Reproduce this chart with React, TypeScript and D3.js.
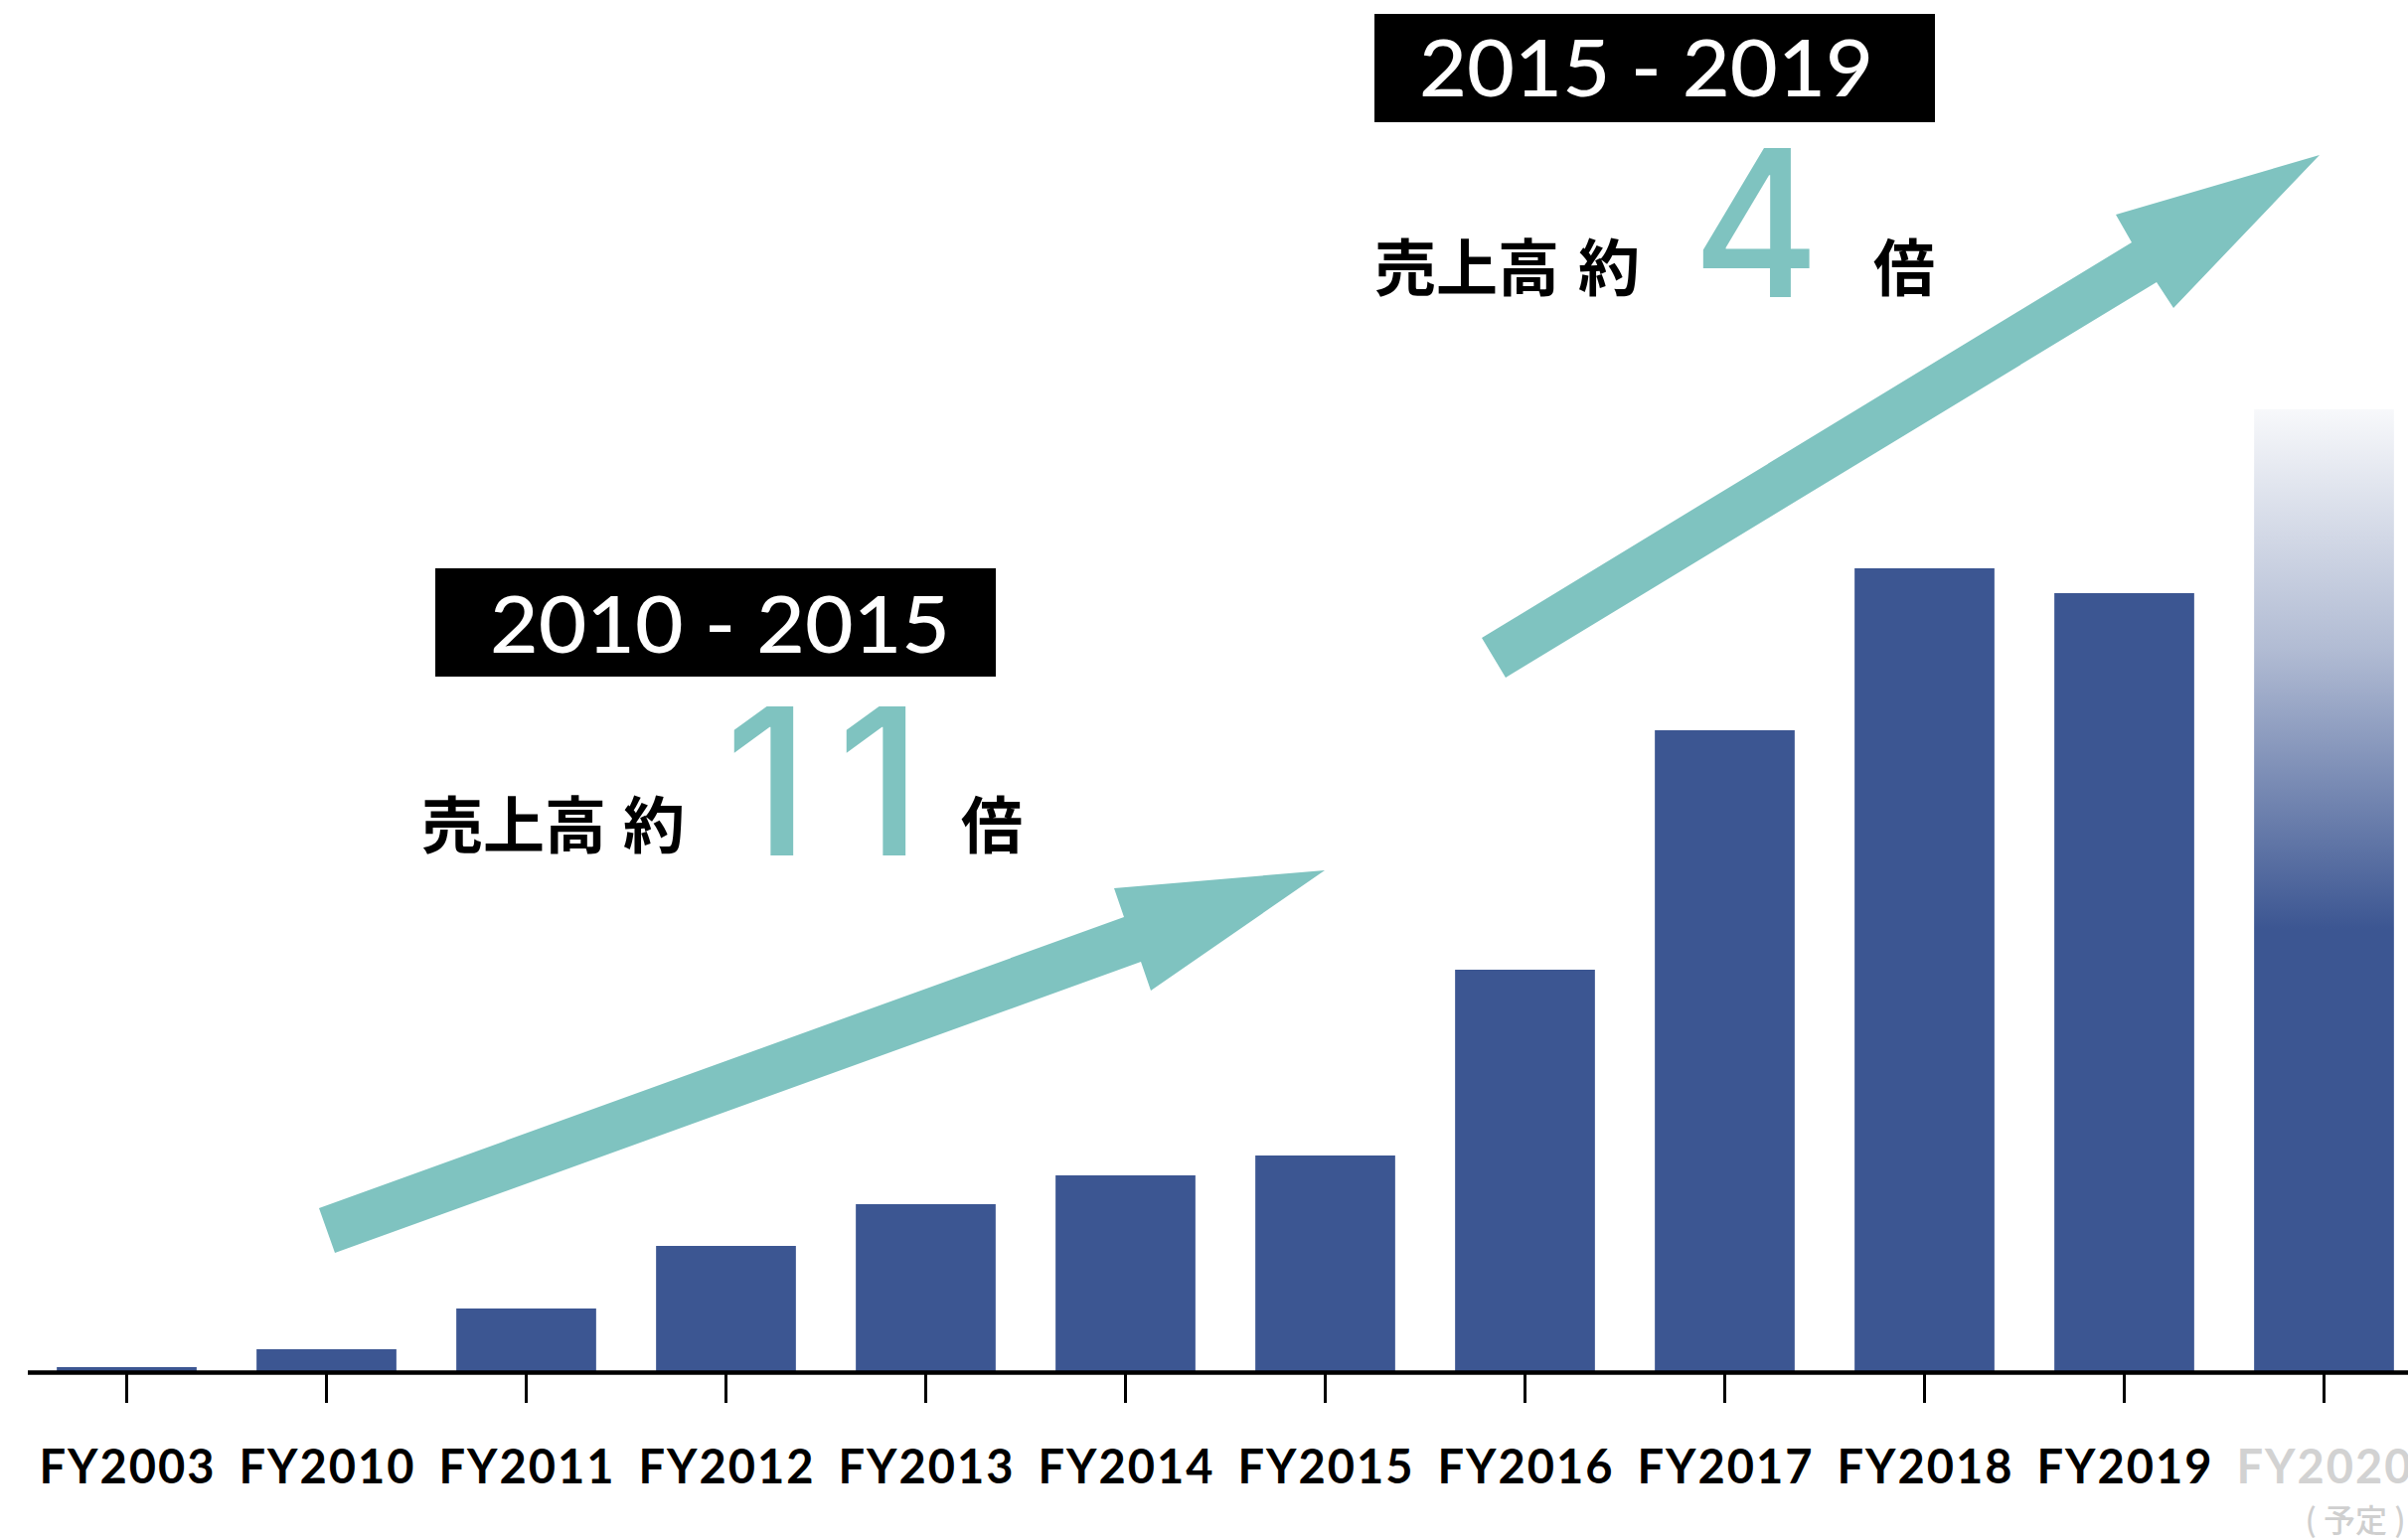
import React from "react";
import * as d3 from "d3";

const categories = ["FY2003","FY2010","FY2011","FY2012","FY2013","FY2014","FY2015","FY2016","FY2017","FY2018","FY2019","FY2020"];
const sales = [4, 22, 63, 126, 168, 197, 217, 404, 645, 808, 783, 968];
const projected = [false,false,false,false,false,false,false,false,false,false,false,true];
const periodLabels = ["2010 - 2015", "2015 - 2019"];
const growthFactors = ["11", "4"];

const W = 2423, H = 1550;
const BAR = "#3c5692";
const TEAL = "#7fc3c0";

export default function App() {
  const x = d3.scaleBand<string>().domain(categories).range([27, 27 + 201 * categories.length]).paddingInner(0.3).paddingOuter(0.15);
  const y = d3.scaleLinear().domain([0, 1000]).range([1380, 380]);
  const bw = x.bandwidth();

  const arrow1: [number, number][] = [[321,1216],[1131,923],[1121,894],[1333,876],[1158,997],[1148,968],[337,1261]];
  const arrow2: [number, number][] = [[1491,642],[2145,244],[2129,216],[2334,156],[2187,310],[2170,284],[1515,682]];
  const line = d3.line().curve(d3.curveLinearClosed);

  const jp = "'Noto Sans CJK JP', sans-serif";
  const lat = "Lato, 'Noto Sans', sans-serif";
  const big = "Inter, Roboto, sans-serif";
  const digitX = [772, 885];

  return (
    <svg width={W} height={H} style={{ position: "absolute", left: 0, top: 0, background: "#fff" }}>
      <defs>
        <linearGradient id="proj" x1="0" y1="0" x2="0" y2="1">
          <stop offset="0" stopColor={BAR} stopOpacity={0.04} />
          <stop offset="0.25" stopColor={BAR} stopOpacity={0.4} />
          <stop offset="0.54" stopColor={BAR} stopOpacity={1} />
          <stop offset="1" stopColor={BAR} stopOpacity={1} />
        </linearGradient>
      </defs>

      {categories.map((c, i) => (
        <rect key={c} x={x(c)} y={y(sales[i])} width={bw} height={y(0) - y(sales[i])}
          fill={projected[i] ? "url(#proj)" : BAR} />
      ))}

      <line x1={28} x2={W} y1={1381.5} y2={1381.5} stroke="#000" strokeWidth={4.5} />
      {categories.map((c) => {
        const cx = (x(c) as number) + bw / 2;
        return <line key={"t" + c} x1={cx} x2={cx} y1={1383} y2={1412} stroke="#000" strokeWidth={3} />;
      })}
      {categories.map((c, i) => {
        const cx = (x(c) as number) + bw / 2;
        return (
          <text key={"l" + c} x={cx + 1} y={1493} textAnchor="middle" fontFamily={lat} fontWeight={700} fontSize={47}
            letterSpacing={2} fill={projected[i] ? "#d2d2d2" : "#000"}>{c}</text>
        );
      })}
      <text x={2370} y={1542} textAnchor="middle" fontFamily={jp} fontWeight={500} fontSize={32} fill="#cfcfcf">( 予定 )</text>

      <path d={line(arrow1) as string} fill={TEAL} />
      <path d={line(arrow2) as string} fill={TEAL} />

      <rect x={438} y={572} width={564} height={109} fill="#000" />
      <text x={493} y={657} fontFamily={lat} fontWeight={500} fontSize={80} fill="#fff" textLength={463} lengthAdjust="spacingAndGlyphs">{periodLabels[0]}</text>
      <text x={424} y={854} fontFamily={jp} fontWeight={700} fontSize={62} fill="#000">売上高</text>
      <text x={627} y={854} fontFamily={jp} fontWeight={700} fontSize={62} fill="#000">約</text>
      {growthFactors[0].split("").map((ch, k) => (
        <text key={"d" + k} x={digitX[k]} y={861} textAnchor="middle" fontFamily={big} fontWeight={500} fontSize={206} fill={TEAL}>{ch}</text>
      ))}
      <text x={967} y={854} fontFamily={jp} fontWeight={700} fontSize={62} fill="#000">倍</text>

      <rect x={1383} y={14} width={564} height={109} fill="#000" />
      <text x={1428} y={97} fontFamily={lat} fontWeight={500} fontSize={80} fill="#fff" textLength={457} lengthAdjust="spacingAndGlyphs">{periodLabels[1]}</text>
      <text x={1383} y={293} fontFamily={jp} fontWeight={700} fontSize={62} fill="#000">売上高</text>
      <text x={1588} y={293} fontFamily={jp} fontWeight={700} fontSize={62} fill="#000">約</text>
      <text x={1767} y={299} textAnchor="middle" fontFamily={big} fontWeight={500} fontSize={206} fill={TEAL} textLength={128} lengthAdjust="spacingAndGlyphs">{growthFactors[1]}</text>
      <text x={1885} y={293} fontFamily={jp} fontWeight={700} fontSize={62} fill="#000">倍</text>
    </svg>
  );
}
